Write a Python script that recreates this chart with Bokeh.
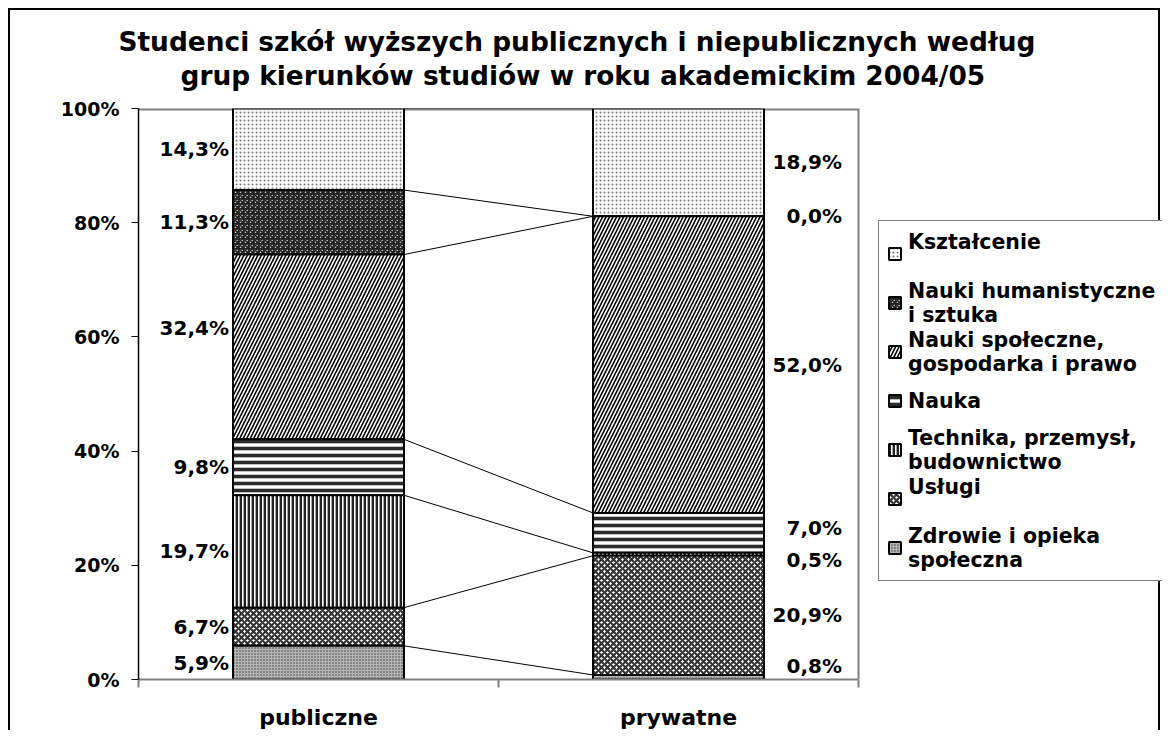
from bokeh.plotting import figure
from bokeh.models import (Range1d, FixedTicker, PrintfTickFormatter, ColumnDataSource,
                          Legend, LegendItem, Title)
from bokeh.core.properties import value
from bokeh.embed import file_html
from bokeh.resources import INLINE

# ---------------- data ----------------
categories = ["publiczne", "prywatne"]
series_names = ["Kształcenie", "Nauki humanistyczne i sztuka",
                "Nauki społeczne, gospodarka i prawo", "Nauka",
                "Technika, przemysł, budownictwo", "Usługi",
                "Zdrowie i opieka społeczna"]
legend_labels = ["Kształcenie\n\u200b", "Nauki humanistyczne\ni sztuka",
                 "Nauki społeczne,\ngospodarka i prawo", "Nauka",
                 "Technika, przemysł,\nbudownictwo", "Usługi\n\u200b",
                 "Zdrowie i opieka\nspołeczna"]
title_lines = ["Studenci szkół wyższych publicznych i niepublicznych według",
               "grup kierunków studiów w roku akademickim 2004/05"]
ksztalcenie = [14.3, 18.9]
humanistyczne = [11.3, 0.0]
spoleczne = [32.4, 52.0]
nauka = [9.8, 7.0]
technika = [19.7, 0.5]
uslugi = [6.7, 20.9]
zdrowie = [5.9, 0.8]
values_top_down = [ksztalcenie, humanistyczne, spoleczne, nauka, technika, uslugi, zdrowie]

# ---------------- styles / layout ----------------
FONT = "DejaVu Sans"
styles = [
    dict(fill_color="white", hatch_pattern="dot", hatch_color="#777777", hatch_scale=4, hatch_weight=1),
    dict(fill_color="white", hatch_pattern="criss_cross", hatch_color="#222222", hatch_scale=5, hatch_weight=1.6),
    dict(fill_color="white", hatch_pattern="right_diagonal_line", hatch_color="black", hatch_scale=7, hatch_weight=1.6),
    dict(fill_color="white", hatch_pattern="horizontal_line", hatch_color="#2a2a2a", hatch_scale=7, hatch_weight=3.6),
    dict(fill_color="white", hatch_pattern="vertical_line", hatch_color="#222222", hatch_scale=4, hatch_weight=2.8),
    dict(fill_color="white", hatch_pattern="diagonal_cross", hatch_color="#333333", hatch_scale=6, hatch_weight=2.2),
    dict(fill_color="#b4b4b4", hatch_pattern="dot", hatch_color="#3a3a3a", hatch_scale=3, hatch_weight=1),
]
# pixel nudges of the data labels (screen px, + = down), per series (top-down), per bar
label_nudge = [[0, 0], [0, 0], [-19, 0], [0, -5], [0, 6], [0, 0], [0, -11]]

W, H = 1152, 722
BORDER_L, BORDER_T, BORDER_B = 128, 98, 52
PLOT_W = 720                       # width of the category area in px
FRAME_W = W - BORDER_L             # frame also covers the legend area on the right
BAR_W = 0.475
n = len(categories)
xs = [i + 0.5 for i in range(n)]

p = figure(width=W, height=H, x_range=Range1d(0, n * FRAME_W / PLOT_W), y_range=Range1d(0, 100),
           output_backend="svg", toolbar_location=None,
           min_border_left=BORDER_L, min_border_right=0, min_border_top=BORDER_T,
           min_border_bottom=BORDER_B)
p.styles = {"margin-left": "8px", "margin-top": "8px",
            "border-top": "2px solid black", "border-left": "2px solid black",
            "border-right": "2px solid black"}
p.background_fill_color = "white"
p.border_fill_color = "white"
p.outline_line_color = None
p.xgrid.visible = False
p.ygrid.visible = False

# title: two centred lines (stacked panels above the frame)
p.title.text = ""
spacer = Title(text=" ", text_font_size="4px", standoff=10)
t2 = Title(text=title_lines[1], align="left", offset=42, standoff=2,
           text_font=FONT, text_font_size="26.4px", text_font_style="bold", text_color="black")
t1 = Title(text=title_lines[0], align="left", offset=-20, standoff=0,
           text_font=FONT, text_font_size="26.4px", text_font_style="bold", text_color="black")
p.add_layout(spacer, "above")
p.add_layout(t2, "above")
p.add_layout(t1, "above")

# plot-area border (gray, top and right)
p.segment(x0=[0], y0=[100], x1=[n], y1=[100], line_color="#808080", line_width=4)
p.segment(x0=[n], y0=[0], x1=[n], y1=[100], line_color="#808080", line_width=2)

# normalized stacking (100% stacked)
totals = [sum(v[i] for v in values_top_down) for i in range(n)]
cum = [0.0] * n
tops = {}
bottoms = {}
for idx in reversed(range(len(values_top_down))):
    vals = values_top_down[idx]
    bottoms[idx] = cum[:]
    tops[idx] = [cum[i] + vals[i] / totals[i] * 100 for i in range(n)]
    cum = tops[idx]

# connector lines (series lines)
for idx in range(len(values_top_down)):
    p.segment(x0=[xs[0] + BAR_W / 2], y0=[tops[idx][0]], x1=[xs[1] - BAR_W / 2], y1=[tops[idx][1]],
              line_color="black", line_width=1)

renderers = {}
for idx in range(len(values_top_down)):
    src = ColumnDataSource(dict(x=xs, bottom=bottoms[idx], top=tops[idx]))
    r = p.vbar(x="x", bottom="bottom", top="top", width=BAR_W, source=src,
               line_color="black", line_width=2, **styles[idx])
    renderers[idx] = r

# data labels
for idx, vals in enumerate(values_top_down):
    for i in range(n):
        txt = f"{vals[i]:.1f}%".replace(".", ",")
        yc = (bottoms[idx][i] + tops[idx][i]) / 2
        if i == 0:
            x = xs[i] - BAR_W / 2
            xo = -4
        else:
            x = xs[i] + BAR_W / 2
            xo = 78
        p.text(x=[x], y=[yc], text=[txt], x_offset=xo, y_offset=label_nudge[idx][i],
               text_align="right", text_baseline="middle",
               text_font=value(FONT), text_font_size="20px", text_font_style="bold",
               text_color="black")

# axes
p.xaxis.bounds = (0, n)
p.xaxis.ticker = FixedTicker(ticks=xs, minor_ticks=list(range(n + 1)))
p.xaxis.major_label_overrides = {x: c for x, c in zip(xs, categories)}
p.xaxis.major_tick_line_color = None
p.xaxis.major_tick_out = 0
p.xaxis.major_tick_in = 0
p.xaxis.minor_tick_out = 8
p.xaxis.minor_tick_in = 0
p.xaxis.minor_tick_line_color = "#808080"
p.xaxis.minor_tick_line_width = 2
p.xaxis.axis_line_color = "#808080"
p.xaxis.axis_line_width = 2
p.xaxis.major_label_standoff = 17
p.xaxis.major_label_text_font = FONT
p.xaxis.major_label_text_font_size = "22px"
p.xaxis.major_label_text_font_style = "bold"
p.xaxis.major_label_text_color = "black"

p.yaxis.ticker = FixedTicker(ticks=[0, 20, 40, 60, 80, 100], minor_ticks=[])
p.yaxis.formatter = PrintfTickFormatter(format="%d%%")
p.yaxis.major_tick_out = 7
p.yaxis.major_tick_in = 0
p.yaxis.major_tick_line_color = "black"
p.yaxis.axis_line_color = "black"
p.yaxis.axis_line_width = 1.5
p.yaxis.major_label_standoff = 12
p.yaxis.major_label_text_font = FONT
p.yaxis.major_label_text_font_size = "19px"
p.yaxis.major_label_text_font_style = "bold"
p.yaxis.major_label_text_color = "black"

# legend (inside the extended frame, to the right of the plot area)
items = [LegendItem(label=legend_labels[idx], renderers=[renderers[idx]]) for idx in range(len(values_top_down))]
legend = Legend(items=items, location=(740, 98), orientation="vertical",
                label_text_font=FONT, label_text_font_size="20.5px", label_text_font_style="bold",
                label_text_color="black", label_height=49,
                glyph_width=15, glyph_height=15, label_standoff=6,
                padding=8, spacing=0, margin=0, border_line_color="black", border_line_width=1.5,
                background_fill_color="white", background_fill_alpha=1)
p.add_layout(legend, "center")

open("out.html", "w").write(file_html(p, INLINE))
